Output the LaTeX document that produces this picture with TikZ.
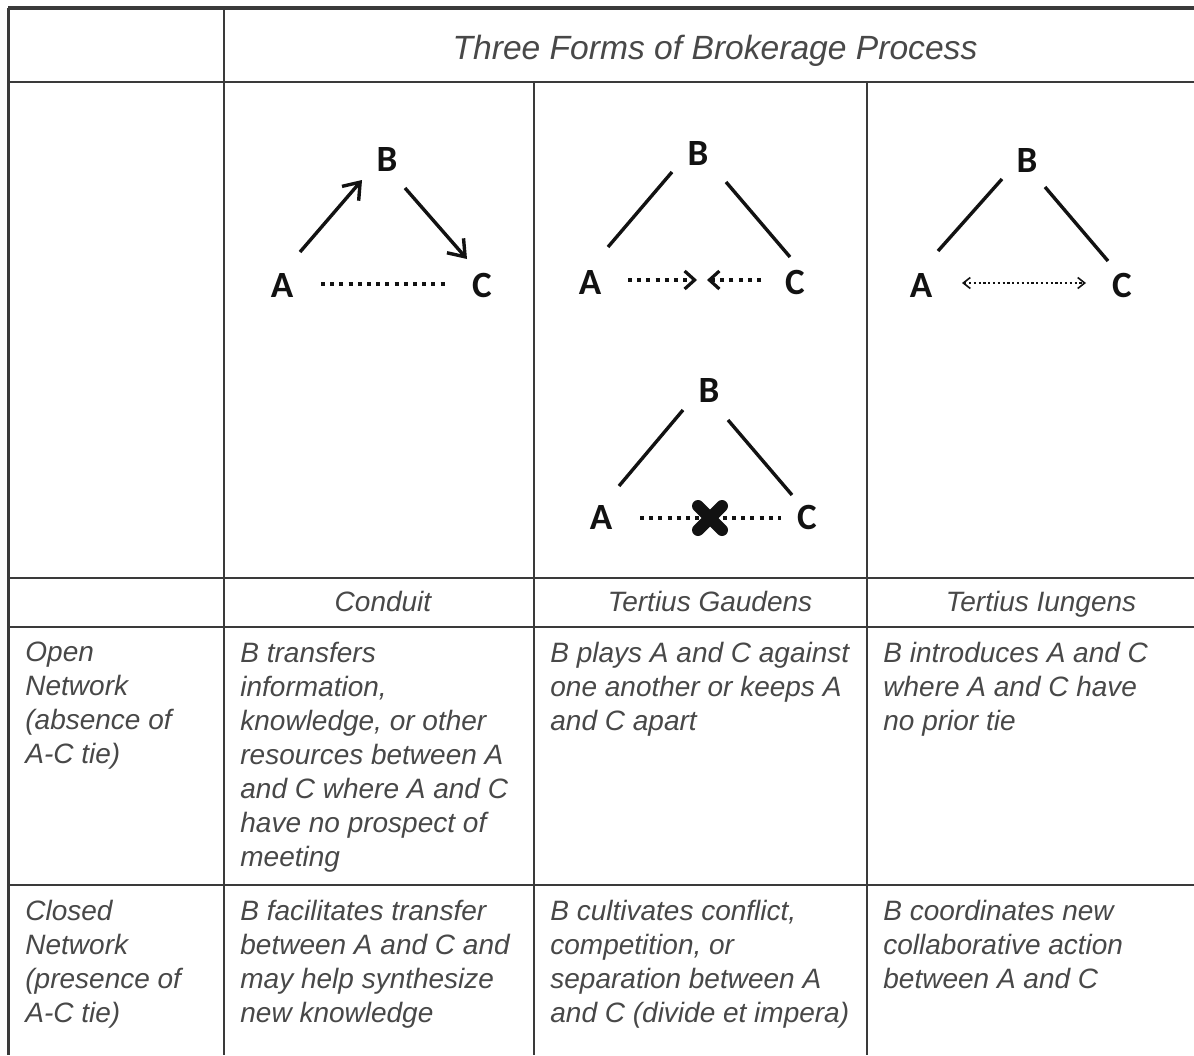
\documentclass[tikz,border=0pt]{standalone}
\usepackage{fontspec}
\setmainfont{Liberation Sans}
\newfontfamily\letterfont{Carlito}
\usetikzlibrary{arrows.meta}
\definecolor{rulec}{RGB}{58,58,58}
\definecolor{txtc}{RGB}{72,72,72}
\definecolor{inkc}{RGB}{18,18,18}
\tikzset{
  tablerule/.style={draw=rulec, line width=1.25pt},
  cell/.style={anchor=north west, align=left, inner sep=0pt, text=txtc,
    font=\fontsize{14}{17}\selectfont\itshape},
  colhead/.style={anchor=base, inner sep=0pt, text=txtc,
    font=\fontsize{14}{17}\selectfont\itshape},
  vertex/.style={inner sep=0pt, text=inkc,
    font=\letterfont\bfseries\fontsize{18.5}{18.5}\selectfont},
  tie/.style={draw=inkc, line width=1.7pt},
  flow/.style={tie, -{Straight Barb[length=7.5pt,width=11pt]}},
  weak/.style={draw=inkc, line width=1.6pt, dash pattern=on 2pt off 2.6pt},
  weakarrow/.style={weak, -{Straight Barb[length=5pt,width=9pt]}},
  thinweak/.style={draw=inkc, line width=0.8pt, dash pattern=on 1.1pt off 1.3pt,
    {Straight Barb[length=3.5pt,width=5.5pt]}-{Straight Barb[length=3.5pt,width=5.5pt]}},
  cross/.style={draw=inkc, line width=6pt, line cap=round}
}
\begin{document}
\begin{tikzpicture}[x=0.5pt,y=-0.5pt]
\useasboundingbox (0,0) rectangle (1194,1055);
\fill[white] (0,0) rectangle (1194,1055);

% table rules
\draw[tablerule, line width=1.6pt] (8,8) -- (1194,8);
\draw[tablerule] (8,82) -- (1194,82);
\draw[tablerule] (8,578) -- (1194,578);
\draw[tablerule] (8,627) -- (1194,627);
\draw[tablerule] (8,885) -- (1194,885);
\draw[tablerule, line width=1.5pt] (8,8) -- (8,1055);
\draw[tablerule] (224,8) -- (224,1055);
\draw[tablerule] (534,82) -- (534,1055);
\draw[tablerule] (867,82) -- (867,1055);

% title and column heads
\node[colhead, font=\fontsize{16.8}{20}\selectfont\itshape] (title) at (715,59) {Three Forms of Brokerage Process};
\node[colhead] (hconduit) at (383,611) {Conduit};
\node[colhead] (hgaudens) at (710,611) {Tertius Gaudens};
\node[colhead] (hiungens) at (1041,611) {Tertius Iungens};

% conduit
\node[vertex] (a1) at (282,285) {A};
\node[vertex] (b1) at (387,159) {B};
\node[vertex] (c1) at (482,285) {C};
\coordinate (a1b1s) at (300,252); \coordinate (a1b1e) at (362,180);
\coordinate (b1c1s) at (405,188); \coordinate (b1c1e) at (467,259);
\coordinate (a1c1s) at (321,284); \coordinate (a1c1e) at (447,284);
\draw[flow] (a1b1s) -- (a1b1e);
\draw[flow] (b1c1s) -- (b1c1e);
\draw[weak] (a1c1s) -- (a1c1e);

% tertius gaudens (upper)
\node[vertex] (a2) at (590,282) {A};
\node[vertex] (b2) at (698,153) {B};
\node[vertex] (c2) at (795,282) {C};
\coordinate (a2b2s) at (608,247); \coordinate (a2b2e) at (672,172);
\coordinate (b2c2s) at (726,182); \coordinate (b2c2e) at (790,257);
\coordinate (a2ms) at (628,280); \coordinate (a2me) at (697,280);
\coordinate (c2ms) at (761,280); \coordinate (c2me) at (707,280);
\draw[tie] (a2b2s) -- (a2b2e);
\draw[tie] (b2c2s) -- (b2c2e);
\draw[weakarrow] (a2ms) -- (a2me);
\draw[weakarrow] (c2ms) -- (c2me);

% tertius iungens
\node[vertex] (a3) at (921,285) {A};
\node[vertex] (b3) at (1027,160) {B};
\node[vertex] (c3) at (1122,285) {C};
\coordinate (a3b3s) at (938,251); \coordinate (a3b3e) at (1002,179);
\coordinate (b3c3s) at (1045,187); \coordinate (b3c3e) at (1108,261);
\coordinate (a3c3s) at (962,283); \coordinate (a3c3e) at (1086,283);
\draw[tie] (a3b3s) -- (a3b3e);
\draw[tie] (b3c3s) -- (b3c3e);
\draw[thinweak] (a3c3s) -- (a3c3e);

% tertius gaudens (lower)
\node[vertex] (a4) at (601,517) {A};
\node[vertex] (b4) at (709,390) {B};
\node[vertex] (c4) at (807,517) {C};
\coordinate (a4b4s) at (619,486); \coordinate (a4b4e) at (683,410);
\coordinate (b4c4s) at (728,420); \coordinate (b4c4e) at (792,495);
\coordinate (a4c4s) at (640,518); \coordinate (a4c4e) at (781,518);
\draw[tie] (a4b4s) -- (a4b4e);
\draw[tie] (b4c4s) -- (b4c4e);
\draw[weak] (a4c4s) -- (a4c4e);
\coordinate (xm) at (710,518);
\draw[cross] ([shift={(-12,-12)}]xm) -- ([shift={(12,12)}]xm);
\draw[cross] ([shift={(-12,12)}]xm) -- ([shift={(12,-12)}]xm);

% open network row
\node[cell] (open) at (25,641.5) {Open\\Network\\(absence of\\A-C tie)};
\node[cell] (open1) at (240,641.5) {B transfers\\information,\\knowledge, or other\\resources between A\\and C where A and C\\have no prospect of\\meeting};
\node[cell] (open2) at (550,641.5) {B plays A and C against\\one another or keeps A\\and C apart};
\node[cell] (open3) at (883,641.5) {B introduces A and C\\where A and C have\\no prior tie};

% closed network row
\node[cell] (closed) at (25,899.5) {Closed\\Network\\(presence of\\A-C tie)};
\node[cell] (closed1) at (240,899.5) {B facilitates transfer\\between A and C and\\may help synthesize\\new knowledge};
\node[cell] (closed2) at (550,899.5) {B cultivates conflict,\\competition, or\\separation between A\\and C (divide et impera)};
\node[cell] (closed3) at (883,899.5) {B coordinates new\\collaborative action\\between A and C};
\end{tikzpicture}
\end{document}
